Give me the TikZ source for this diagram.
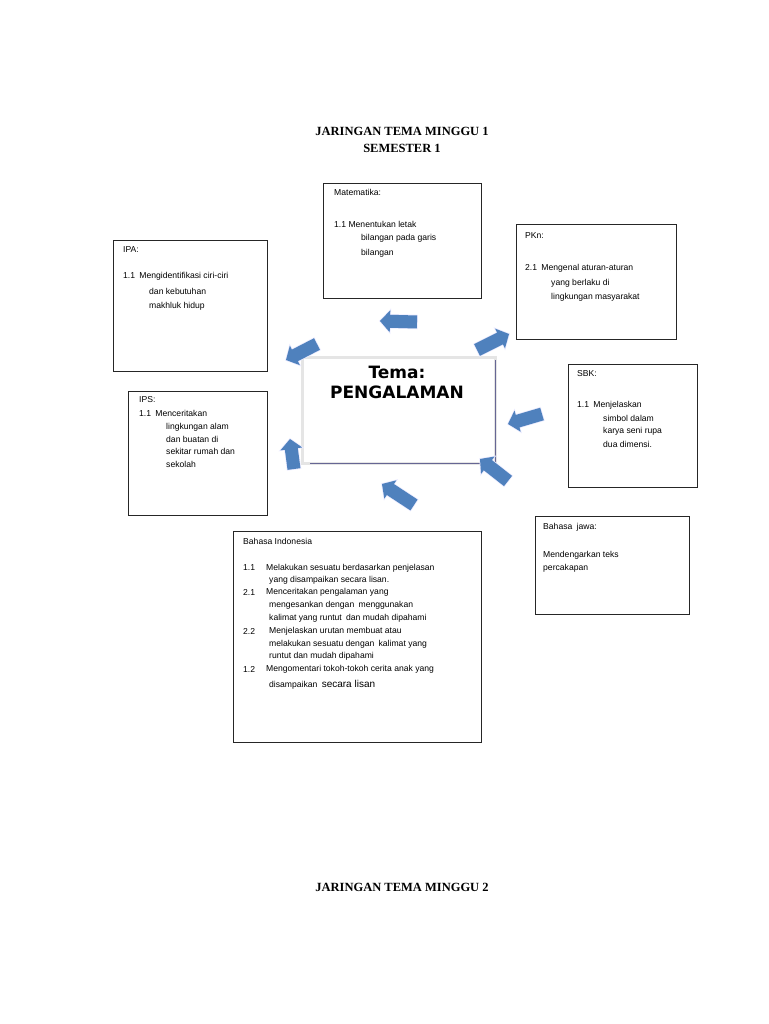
\documentclass[tikz,border=0pt]{standalone}
\usepackage{fontspec}
\setmainfont{Liberation Sans}
\newfontfamily\titlefont{Liberation Serif}
\newfontfamily\temafont{DejaVu Sans}
\usetikzlibrary{calc}
\definecolor{arrowblue}{HTML}{4F81BD}
\tikzset{
  box/.style={draw=black!85,line width=0.8pt},
  t/.style={anchor=west,inner sep=0pt,font=\fontsize{8.6}{10}\selectfont},
  ttl/.style={inner sep=0pt,font=\titlefont\bfseries\fontsize{12.5}{14}\selectfont},
  tema/.style={inner sep=0pt,font=\temafont\bfseries\fontsize{17}{19}\selectfont}
}
\newcommand{\blkarrow}[3]{%
  \coordinate (t#1) at #2; \coordinate (h#1) at #3;
  \coordinate (b#1) at ($(h#1)!10pt!(t#1)$);
  \fill[arrowblue,draw=blue!8,line width=1.5pt]
    ($(t#1)!6.5pt!90:(h#1)$) -- ($(b#1)!6.5pt!-90:(t#1)$) -- ($(b#1)!11pt!-90:(t#1)$)
    -- (h#1) -- ($(b#1)!11pt!90:(t#1)$) -- ($(b#1)!6.5pt!90:(t#1)$)
    -- ($(t#1)!6.5pt!-90:(h#1)$) -- cycle;
  \fill[arrowblue]
    ($(t#1)!6.5pt!90:(h#1)$) -- ($(b#1)!6.5pt!-90:(t#1)$) -- ($(b#1)!11pt!-90:(t#1)$)
    -- (h#1) -- ($(b#1)!11pt!90:(t#1)$) -- ($(b#1)!6.5pt!90:(t#1)$)
    -- ($(t#1)!6.5pt!-90:(h#1)$) -- cycle;}
\begin{document}
\begin{tikzpicture}[x=1pt,y=-1pt]
\useasboundingbox[fill=white] (0,0) rectangle (768,1024);
\node[ttl] (title1) at (402,131) {JARINGAN TEMA MINGGU 1};
\node[ttl] (title2) at (402,148) {SEMESTER 1};
\node[ttl] (title3) at (402,887) {JARINGAN TEMA MINGGU 2};

% center box
\draw[black!10,line width=3pt] (302,357) rectangle (495,463);
\draw[black!70!blue!60,line width=0.8pt] (495,360) -- (495,463) -- (310,463);
\node[tema] (tema1) at (397,372) {Tema:};
\node[tema] (tema2) at (397,392) {PENGALAMAN};

% boxes
\draw[box] (323,183) rectangle (481,298);
\node[t] (m0) at (334,192) {Matematika:};
\node[t] (m1) at (334,224) {1.1 Menentukan letak};
\node[t] (m2) at (361,238) {bilangan pada garis};
\node[t] (m3) at (361,253) {bilangan};

\draw[box] (516,224) rectangle (676,339);
\node[t] (p0) at (525,236) {PKn:};
\node[t] (p1) at (525,268) {2.1\enspace Mengenal aturan-aturan};
\node[t] (p2) at (551,283) {yang berlaku di};
\node[t] (p3) at (551,297) {lingkungan masyarakat};

\draw[box] (113,240) rectangle (267,371);
\node[t] (a0) at (123,250) {IPA:};
\node[t] (a1) at (123,276) {1.1\enspace Mengidentifikasi ciri-ciri};
\node[t] (a2) at (149,291) {dan kebutuhan};
\node[t] (a3) at (149,306) {makhluk hidup};

\draw[box] (568,364) rectangle (697,487);
\node[t] (s0) at (577,374) {SBK:};
\node[t] (s1) at (577,405) {1.1\enspace Menjelaskan};
\node[t] (s2) at (603,418) {simbol dalam};
\node[t] (s3) at (603,431) {karya seni rupa};
\node[t] (s4) at (603,444) {dua dimensi.};

\draw[box] (128,391) rectangle (267,515);
\node[t] (i0) at (139,400) {IPS:};
\node[t] (i1) at (139,413) {1.1\enspace Menceritakan};
\node[t] (i2) at (166,427) {lingkungan alam};
\node[t] (i3) at (166,439) {dan buatan di};
\node[t] (i4) at (166,451) {sekitar rumah dan};
\node[t] (i5) at (166,464) {sekolah};

\draw[box] (535,516) rectangle (689,614);
\node[t] (j0) at (543,527) {Bahasa\enspace jawa:};
\node[t] (j1) at (543,555) {Mendengarkan teks};
\node[t] (j2) at (543,568) {percakapan};

\draw[box] (233,531) rectangle (481,742);
\node[t] (b0) at (243,541) {Bahasa Indonesia};
\node[t] (b1n) at (243,568) {1.1};
\node[t] (b1) at (266,568) {Melakukan sesuatu berdasarkan penjelasan};
\node[t] (b2) at (269,580) {yang disampaikan secara lisan.};
\node[t] (b3n) at (243,592) {2.1};
\node[t] (b3) at (266,592) {Menceritakan pengalaman yang};
\node[t] (b4) at (269,605) {mengesankan dengan\enspace menggunakan};
\node[t] (b5) at (269,618) {kalimat yang runtut\enspace dan mudah dipahami};
\node[t] (b6n) at (243,631) {2.2};
\node[t] (b6) at (269,631) {Menjelaskan urutan membuat atau};
\node[t] (b7) at (269,644) {melakukan sesuatu dengan\enspace kalimat yang};
\node[t] (b8) at (269,656) {runtut dan mudah dipahami};
\node[t] (b9n) at (243,669) {1.2};
\node[t] (b9) at (266,669) {Mengomentari tokoh-tokoh cerita anak yang};
\node[t] (b10) at (269,685) {disampaikan\enspace {\fontsize{10}{12}\selectfont secara lisan}};

% block arrows
\blkarrow{1}{(417,322)}{(380,321)}
\blkarrow{2}{(317,344)}{(286,360)}
\blkarrow{3}{(477,350)}{(509,334)}
\blkarrow{4}{(542,414)}{(508,424)}
\blkarrow{5}{(508,481)}{(480,459)}
\blkarrow{6}{(414,505)}{(382,484)}
\blkarrow{7}{(294,469)}{(290,439)}
\end{tikzpicture}
\end{document}
